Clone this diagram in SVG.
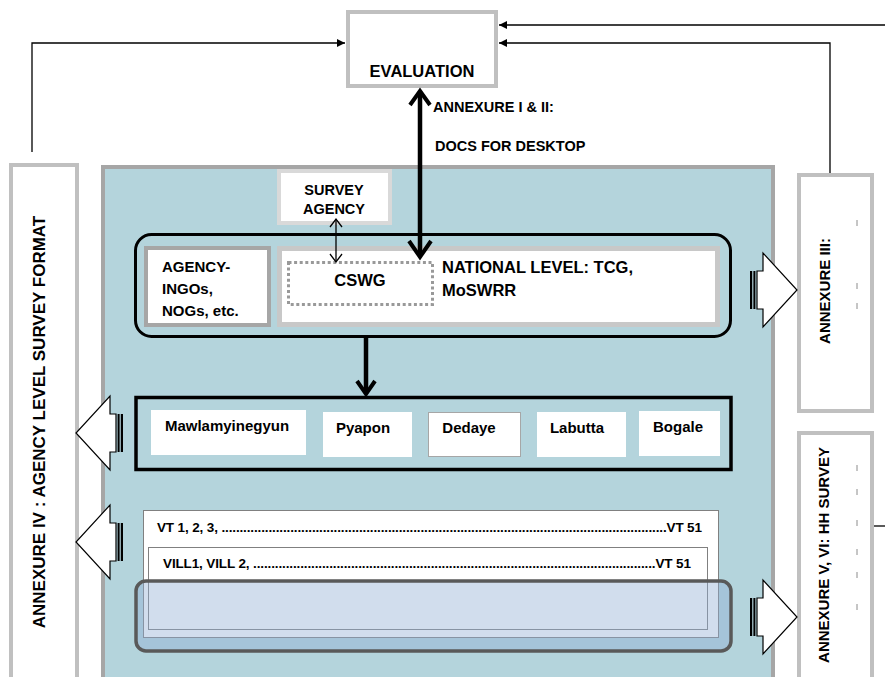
<svg xmlns="http://www.w3.org/2000/svg" width="885" height="677" viewBox="0 0 885 677">
  <style>
    text { font-family: "Liberation Sans", Arial, sans-serif; font-weight: bold; fill: #000; }
    .annex { fill: #fff; stroke: #c0c0c0; stroke-width: 4; }
    .box { fill: #fff; }
    .conn { fill: none; stroke: #000; stroke-width: 1.3; }
    .thick { fill: none; stroke: #000; stroke-width: 4.5; }
    .chev { fill: none; stroke: #000; stroke-width: 4; stroke-linejoin: miter; stroke-linecap: butt; }
    .tick { stroke: #8c8c8c; stroke-width: 1; }
    .blk { fill: #fff; stroke: #000; stroke-width: 1.2; }
  </style>
  <defs>
    <marker id="head" viewBox="0 0 10 10" refX="10" refY="5" markerWidth="9" markerHeight="8" markerUnits="userSpaceOnUse" orient="auto">
      <path d="M0,0 L10,5 L0,10 Z" fill="#000"/>
    </marker>
    <!-- striped block arrow pointing right, tail at x=0, centred on y=0 -->
    <g id="stripedArrow">
      <rect x="0" y="-19" width="2.2" height="38" fill="#000"/>
      <rect x="3.4" y="-19" width="2" height="38" fill="#000"/>
      <polygon class="blk" points="7,-19 13,-19 13,-37 47,0 13,37 13,19 7,19"/>
    </g>
  </defs>

  <rect width="885" height="677" fill="#fff"/>

  <!-- main panel -->
  <g id="panel">
    <rect x="103" y="167" width="670" height="515" fill="#b4d4dc" stroke="#a6a6a6" stroke-width="4"/>
  </g>

  <!-- evaluation -->
  <g id="evaluation">
    <rect class="box" x="348" y="12" width="148" height="74" stroke="#c0c0c0" stroke-width="4"/>
    <text x="422" y="77" font-size="16.5" text-anchor="middle">EVALUATION</text>
  </g>

  <!-- annexure IV (left) -->
  <g id="annex-iv">
    <rect class="annex" x="11" y="165" width="66" height="520"/>
    <text transform="translate(45,422) rotate(-90)" font-size="17" text-anchor="middle">ANNEXURE IV : AGENCY LEVEL SURVEY FORMAT</text>
  </g>

  <!-- annexure III (right, top) -->
  <g id="annex-iii">
    <rect class="annex" x="799" y="175" width="73" height="236"/>
    <text transform="translate(830,291) rotate(-90)" font-size="15" text-anchor="middle">ANNEXURE III:</text>
    <line class="tick" x1="857" y1="220" x2="857" y2="226"/>
    <line class="tick" x1="857" y1="283" x2="857" y2="289"/>
    <line class="tick" x1="857" y1="303" x2="857" y2="309"/>
  </g>

  <!-- annexure V, VI (right, bottom) -->
  <g id="annex-v-vi">
    <rect class="annex" x="799" y="433" width="73" height="252"/>
    <text transform="translate(829,555) rotate(-90)" font-size="15" text-anchor="middle">ANNEXURE V, VI: HH SURVEY</text>
    <line class="tick" x1="857" y1="465" x2="857" y2="471"/>
    <line class="tick" x1="857" y1="489" x2="857" y2="495"/>
    <line class="tick" x1="857" y1="520" x2="857" y2="526"/>
    <line class="tick" x1="857" y1="549" x2="857" y2="555"/>
    <line class="tick" x1="857" y1="572" x2="857" y2="578"/>
    <line class="tick" x1="857" y1="604" x2="857" y2="610"/>
  </g>

  <!-- survey agency -->
  <g id="survey-agency">
    <rect class="box" x="279" y="171" width="111" height="52" stroke="#d9d9d9" stroke-width="4"/>
    <text x="334" y="195" font-size="14.5" text-anchor="middle">SURVEY</text>
    <text x="334" y="214" font-size="14.5" text-anchor="middle">AGENCY</text>
  </g>

  <!-- national level group -->
  <g id="national-group">
    <rect x="135.5" y="234.5" width="595" height="102" rx="16" fill="none" stroke="#000" stroke-width="3"/>
  </g>
  <g id="agency-ingos">
    <rect class="box" x="146" y="248" width="123" height="77" stroke="#a6a6a6" stroke-width="4"/>
    <text x="162" y="272" font-size="15">AGENCY-</text>
    <text x="162" y="294" font-size="15">INGOs,</text>
    <text x="162" y="316" font-size="15">NOGs, etc.</text>
  </g>
  <g id="national-level">
    <rect class="box" x="279.5" y="248.5" width="438" height="76" stroke="#c8c8c8" stroke-width="5"/>
    <text x="442" y="273" font-size="16.5">NATIONAL LEVEL: TCG,</text>
    <text x="442" y="296" font-size="16.5">MoSWRR</text>
  </g>
  <g id="cswg">
    <rect x="288.5" y="262.5" width="144" height="42" fill="none" stroke="#999" stroke-width="3" stroke-dasharray="3,2.6"/>
    <text x="360" y="286" font-size="16.5" text-anchor="middle">CSWG</text>
  </g>

  <!-- townships -->
  <g id="townships">
    <rect x="136" y="397.5" width="595" height="72" fill="none" stroke="#000" stroke-width="3.5"/>
  </g>
  <g id="mawlamyinegyun">
    <rect class="box" x="151" y="410" width="155" height="45"/>
    <text x="227" y="431" font-size="15" text-anchor="middle">Mawlamyinegyun</text>
  </g>
  <g id="pyapon">
    <rect class="box" x="323" y="412" width="89" height="45"/>
    <text x="363" y="433" font-size="15" text-anchor="middle">Pyapon</text>
  </g>
  <g id="dedaye">
    <rect class="box" x="428.5" y="412.5" width="92" height="44" stroke="#a6a6a6" stroke-width="1"/>
    <text x="469" y="433" font-size="15" text-anchor="middle">Dedaye</text>
  </g>
  <g id="labutta">
    <rect class="box" x="537" y="412" width="89" height="45"/>
    <text x="577" y="433" font-size="15" text-anchor="middle">Labutta</text>
  </g>
  <g id="bogale">
    <rect class="box" x="639" y="411" width="81" height="45"/>
    <text x="678" y="432" font-size="15" text-anchor="middle">Bogale</text>
  </g>

  <!-- village tracts and villages -->
  <g id="village-tracts">
    <rect class="box" x="143.5" y="510.5" width="575" height="127" stroke="#808080" stroke-width="1"/>
    <text x="157" y="532" font-size="13.5" textLength="545" lengthAdjust="spacing">VT 1, 2, 3, ...........................................................................................................................VT 51</text>
  </g>
  <g id="villages">
    <rect class="box" x="148.5" y="547.5" width="559" height="82" stroke="#808080" stroke-width="1"/>
    <text x="163" y="568" font-size="13.5" textLength="528" lengthAdjust="spacing">VILL1, VILL 2, ...............................................................................................................VT 51</text>
  </g>
  <g id="households">
    <rect x="136" y="581" width="595" height="70" rx="10" fill="rgb(145,175,211)" fill-opacity="0.42" stroke="#595959" stroke-width="3.5"/>
  </g>

  <!-- connectors -->
  <g id="connectors">
    <!-- feedback lines into evaluation -->
    <polyline class="conn" points="32,152 32,43 345,43" marker-end="url(#head)"/>
    <polyline class="conn" points="885,25 499,25" marker-end="url(#head)"/>
    <polyline class="conn" points="830,173 830,43 499,43" marker-end="url(#head)"/>
    <line class="conn" x1="874" y1="526" x2="885" y2="526"/>

    <!-- evaluation to CSWG, two-way -->
    <line class="thick" x1="420" y1="93" x2="420" y2="255"/>
    <polyline class="chev" points="410,105 420,91 430,105"/>
    <polyline class="chev" points="409,241 420,257 431,241"/>
    <text x="433" y="112" font-size="14.5">ANNEXURE I &amp; II:</text>
    <text x="435" y="151" font-size="14.5">DOCS FOR DESKTOP</text>

    <!-- survey agency to CSWG, two-way -->
    <line class="conn" x1="336" y1="220" x2="336" y2="261" stroke-width="1.5"/>
    <polyline class="conn" stroke-width="1.5" points="330,227 336,219 342,227"/>
    <polyline class="conn" stroke-width="1.5" points="330,254 336,262 342,254"/>

    <!-- national level down to townships -->
    <line class="thick" x1="366" y1="337" x2="366" y2="393" stroke-width="4"/>
    <polyline class="chev" points="357,381 366,394 375,381"/>

    <!-- block arrows -->
    <use href="#stripedArrow" transform="translate(123,433) scale(-1,1)"/>
    <use href="#stripedArrow" transform="translate(123,542) scale(-1,1)"/>
    <use href="#stripedArrow" transform="translate(750,290)"/>
    <use href="#stripedArrow" transform="translate(750,617)"/>
  </g>
</svg>
